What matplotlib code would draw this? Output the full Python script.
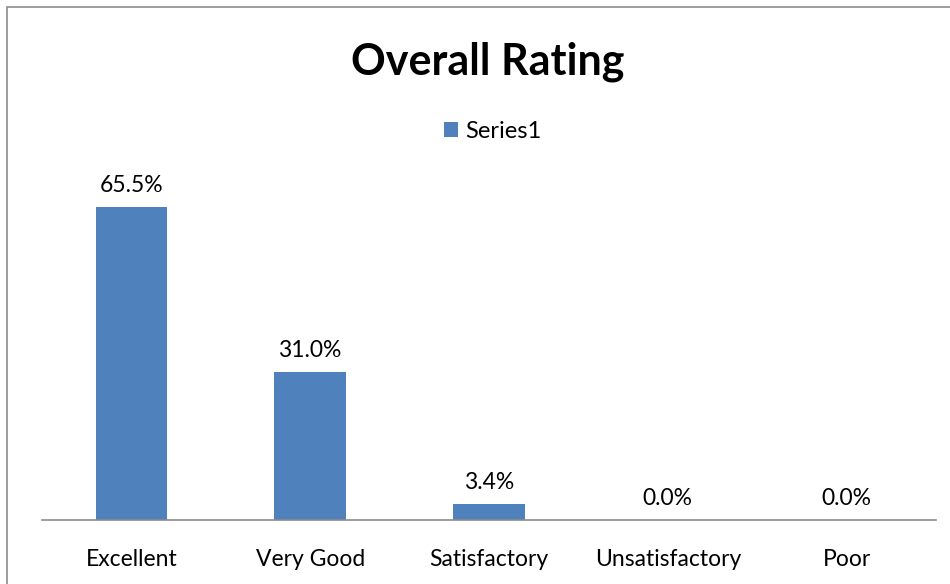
import matplotlib
matplotlib.use("Agg")
import matplotlib.pyplot as plt
from matplotlib.patches import Rectangle

plt.rcParams['font.family'] = ['Lato', 'DejaVu Sans']

categories = ["Excellent", "Very Good", "Satisfactory", "Unsatisfactory", "Poor"]
values = [65.5, 31.0, 3.4, 0.0, 0.0]
series_name = "Series1"
title = "Overall Rating"

bar_color = "#4F81BD"

fig = plt.figure(figsize=(9.5, 5.84), dpi=100)
W, H = 950, 584

# chart frame (only left/top edges visible in the reference)
fig.patches.append(Rectangle((7 / W, -0.02), 1.05, (H - 7) / H + 0.02,
                             transform=fig.transFigure, fill=False,
                             edgecolor="#8c8c8c", linewidth=1.2))

ax = fig.add_axes([42 / W, (H - 520) / H, (936 - 42) / W, (520 - 185) / H])
x = range(len(categories))
bars = ax.bar(x, values, width=0.4, color=bar_color, label=series_name)
ax.set_xlim(-0.5, len(categories) - 0.5)
ax.set_ylim(0, 70)

for i, v in enumerate(values):
    ax.text(i, v + 2.2, "{:.1f}%".format(v), ha="center", va="bottom", fontsize=16.5)

ax.set_xticks(list(x))
ax.set_xticklabels(categories, fontsize=16.5)
ax.tick_params(axis="x", length=0, pad=21)
ax.set_yticks([])
for s in ["top", "right", "left"]:
    ax.spines[s].set_visible(False)
ax.spines["bottom"].set_color("#8c8c8c")
ax.spines["bottom"].set_linewidth(1.2)

fig.text(488 / W, 1 - 62 / H, title, ha="center", va="center",
         fontsize=31, fontweight="bold")
fig.legend(handles=[bars], labels=[series_name], loc="center",
           bbox_to_anchor=(493 / W, 1 - 131 / H), frameon=False,
           fontsize=17, handlelength=0.6, handleheight=0.6, handletextpad=0.3)

fig.savefig("out.png", dpi=100)
